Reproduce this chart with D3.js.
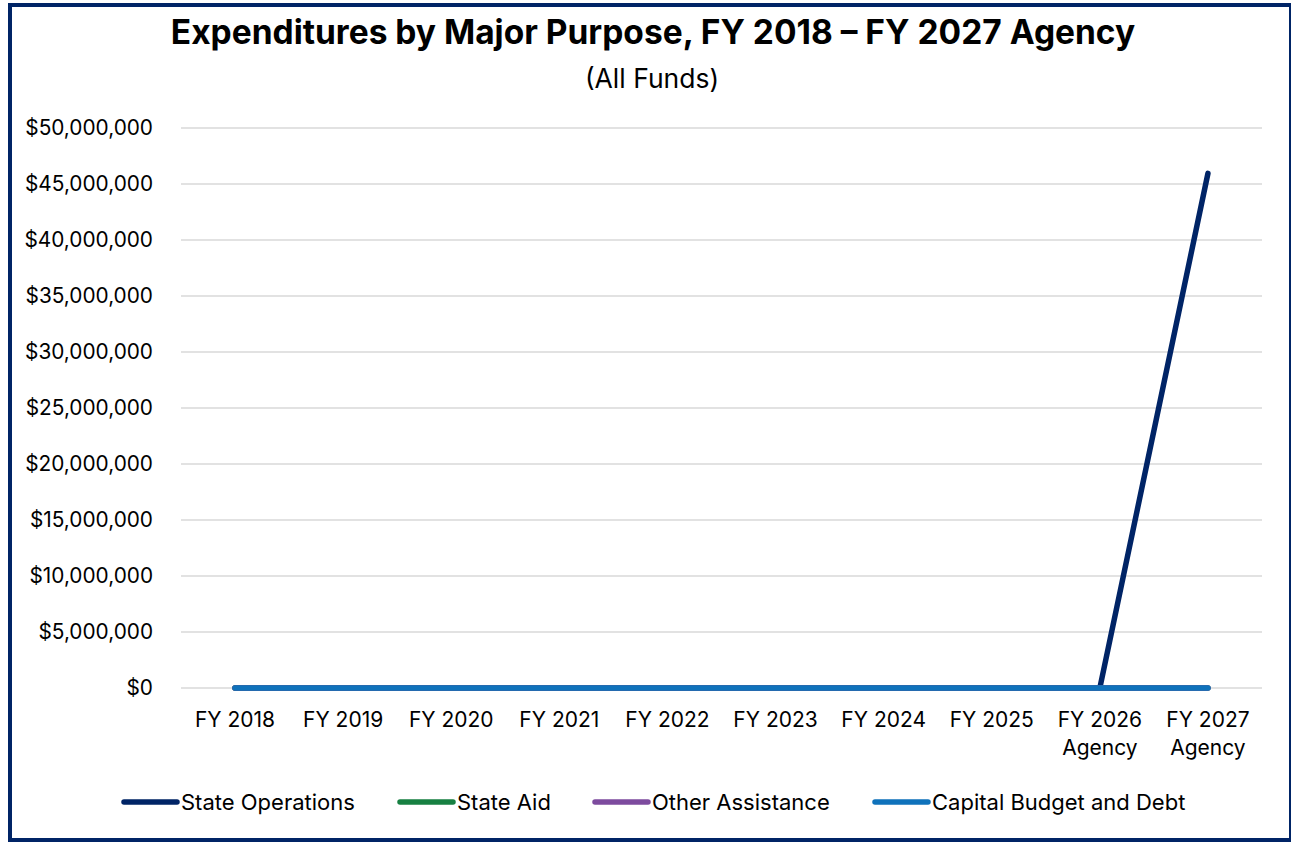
<!doctype html>
<html>
<head>
<meta charset="utf-8"/>
<title>Expenditures by Major Purpose</title>
<script src="https://d3js.org/d3.v7.min.js"></script>
<style>
body { margin: 0; background: #fff; }
text { font-family: Inter, "Open Sans", sans-serif; fill: #000; }
</style>
</head>
<body>
<script type="text/javascript">
// data
var years = ["FY 2018", "FY 2019", "FY 2020", "FY 2021", "FY 2022", "FY 2023", "FY 2024", "FY 2025", "FY 2026 Agency", "FY 2027 Agency"];
var stateOps = [0, 0, 0, 0, 0, 0, 0, 0, 0, 45950000];
var stateAid = [0, 0, 0, 0, 0, 0, 0, 0, 0, 0];
var otherAssist = [0, 0, 0, 0, 0, 0, 0, 0, 0, 0];
var capital = [0, 0, 0, 0, 0, 0, 0, 0, 0, 0];
var yTicks = [0, 5000000, 10000000, 15000000, 20000000, 25000000, 30000000, 35000000, 40000000, 45000000, 50000000];

var series = [
  {name: "State Operations", values: stateOps, color: "#002466"},
  {name: "State Aid", values: stateAid, color: "#178042"},
  {name: "Other Assistance", values: otherAssist, color: "#7d4b9e"},
  {name: "Capital Budget and Debt", values: capital, color: "#0f72bb"}
];

var W = 1291, H = 842;
var svg = d3.select("body").append("svg")
  .attr("width", W)
  .attr("height", H);

// frame
svg.append("rect")
  .attr("x", 10).attr("y", 5)
  .attr("width", 1281).attr("height", 835)
  .attr("fill", "#fff")
  .attr("stroke", "#002466")
  .attr("stroke-width", 4);

var x = d3.scaleBand().domain(years).range([181, 1262]);
var y = d3.scaleLinear().domain([0, 50000000]).range([688, 128]);

// title
svg.append("text")
  .attr("x", 653).attr("y", 44)
  .attr("text-anchor", "middle")
  .style("font-size", "33.5px").style("font-weight", "bold")
  .text("Expenditures by Major Purpose, FY 2018 \u2013 FY 2027 Agency");
svg.append("text")
  .attr("x", 652).attr("y", 88)
  .attr("text-anchor", "middle")
  .style("font-size", "26.5px")
  .text("(All Funds)");

// gridlines
svg.append("g").selectAll("line")
  .data(yTicks).enter().append("line")
  .attr("x1", 181).attr("x2", 1262)
  .attr("y1", function(d){ return y(d); })
  .attr("y2", function(d){ return y(d); })
  .attr("stroke", "#d9d9d9")
  .attr("stroke-width", 1.5);

// y axis
var yAxis = svg.append("g")
  .attr("transform", "translate(181,0)")
  .call(d3.axisLeft(y).tickValues(yTicks).tickSize(0).tickPadding(28)
    .tickFormat(function(d){ return "$" + d3.format(",")(d); }));
yAxis.select(".domain").remove();
yAxis.selectAll("text").style("font-size", "20.8px").style("font-family", "Inter, sans-serif");

// x axis
var xAxis = svg.append("g")
  .attr("transform", "translate(0,688)")
  .call(d3.axisBottom(x).tickSize(0).tickPadding(0).tickFormat(""));
xAxis.select(".domain").remove();
xAxis.selectAll(".tick").each(function(d){
  var parts = d.split(" Agency");
  var t = d3.select(this).append("text")
    .attr("text-anchor", "middle")
    .style("font-size", "21px").style("font-family", "Inter, sans-serif")
    .attr("y", 39);
  t.append("tspan").attr("x", 0).text(parts[0]);
  if (d.indexOf("Agency") >= 0) {
    t.append("tspan").attr("x", 0).attr("dy", 28).text("Agency");
  }
});

// lines
var line = d3.line()
  .x(function(d, i){ return x(years[i]) + x.bandwidth() / 2; })
  .y(function(d){ return y(d); });

svg.append("g").selectAll("path")
  .data(series).enter().append("path")
  .attr("d", function(s){ return line(s.values); })
  .attr("fill", "none")
  .attr("stroke", function(s){ return s.color; })
  .attr("stroke-width", 5.5)
  .attr("stroke-linecap", "round")
  .attr("stroke-linejoin", "round");

// legend
var legendX = [122, 398, 593, 873];
var lg = svg.append("g").selectAll("g")
  .data(series).enter().append("g")
  .attr("transform", function(s, i){ return "translate(" + legendX[i] + ",802)"; });
lg.append("line")
  .attr("x1", 2).attr("x2", 55)
  .attr("stroke", function(s){ return s.color; })
  .attr("stroke-width", 5.5)
  .attr("stroke-linecap", "round");
lg.append("text")
  .attr("x", 59).attr("dy", "0.35em")
  .style("font-size", "22px")
  .text(function(s){ return s.name; });
</script>
</body>
</html>
